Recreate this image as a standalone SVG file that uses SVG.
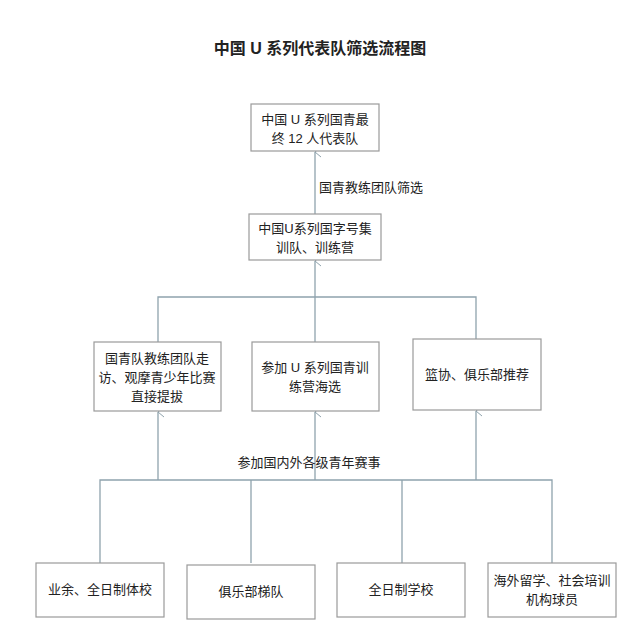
<svg xmlns="http://www.w3.org/2000/svg" width="640" height="629" viewBox="0 0 640 629">
<defs>
<marker id="a" viewBox="0 0 12 12" refX="6" refY="1" markerWidth="12" markerHeight="12" markerUnits="userSpaceOnUse" orient="auto-start-reverse">
<path d="M1,7 L6,1 L11,7" fill="none" stroke="#8fa3ad" stroke-width="1"/>
</marker>
<style>
rect{fill:#fff;stroke:#9a9a9a;stroke-width:1.2}
text{font-family:"Liberation Sans","Noto Sans CJK SC",sans-serif;font-size:13px;fill:#222;text-anchor:middle}
.c path{fill:none;stroke:#8fa3ad;stroke-width:1.3}
</style>
</defs>
<rect x="0" y="0" width="640" height="629" style="fill:#fff;stroke:none"/>
<text x="320" y="54" style="font-size:16px;font-weight:bold">中国 U 系列代表队筛选流程图</text>
<g class="c">
<path d="M315,214 V152" marker-end="url(#a)"/>
<path d="M315,297 V261" marker-end="url(#a)"/>
<path d="M158,342 V297 H476 V339"/>
<path d="M315,297 V342"/>
<path d="M158,480 V412" marker-end="url(#a)"/>
<path d="M315,480 V412" marker-end="url(#a)"/>
<path d="M476,480 V411" marker-end="url(#a)"/>
<path d="M100,563 V480 H552 V563"/>
<path d="M251,480 V563"/>
<path d="M402,480 V563"/>
</g>
<text x="319" y="192" style="text-anchor:start">国青教练团队筛选</text>
<text x="309" y="467">参加国内外各级青年赛事</text>
<g id="n1"><rect x="251" y="104" width="128" height="47"/><text x="315" y="124">中国 U 系列国青最</text><text x="315" y="143">终 12 人代表队</text></g>
<g id="n2"><rect x="249" y="214" width="132" height="46"/><text x="315" y="233">中国U系列国字号集</text><text x="315" y="252">训队、训练营</text></g>
<g id="n3"><rect x="94" y="342" width="127" height="69"/><text x="157" y="363">国青队教练团队走</text><text x="157" y="382">访、观摩青少年比赛</text><text x="157" y="401">直接提拔</text></g>
<g id="n4"><rect x="252" y="342" width="127" height="69"/><text x="315" y="372">参加 U 系列国青训</text><text x="315" y="391">练营海选</text></g>
<g id="n5"><rect x="413" y="339" width="128" height="71"/><text x="477" y="379">篮协、俱乐部推荐</text></g>
<g id="n6"><rect x="36" y="563" width="128" height="54"/><text x="100" y="594">业余、全日制体校</text></g>
<g id="n7"><rect x="187" y="565" width="128" height="54"/><text x="251" y="596">俱乐部梯队</text></g>
<g id="n8"><rect x="337" y="563" width="128" height="54"/><text x="401" y="594">全日制学校</text></g>
<g id="n9"><rect x="488" y="563" width="128" height="54"/><text x="552" y="585">海外留学、社会培训</text><text x="552" y="604">机构球员</text></g>
</svg>
